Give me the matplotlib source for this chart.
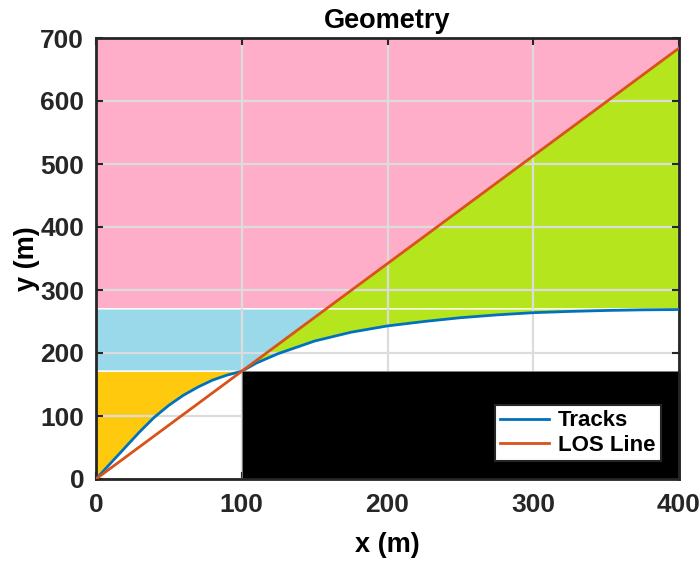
import matplotlib
matplotlib.use("Agg")
import matplotlib.pyplot as plt
import numpy as np
from matplotlib.patches import Polygon, Rectangle

# Data
track_x = [0, 10, 20, 30, 40, 50, 60, 70, 80, 90, 100, 110, 125, 150, 175,
           200, 225, 250, 275, 300, 325, 350, 375, 400]
track_y = [0, 25, 50, 75, 98, 117, 133, 146, 157, 165, 171, 184, 199, 219, 233,
           243, 250, 256, 260.5, 264, 266, 267.5, 268.5, 269]
los_x = [0, 400]
los_y = [0, 684]

wall_x = 100      # start of the black block
low_level = 171   # top of the black block / yellow zone
high_level = 270  # top of the blue zone
x_max = 400
y_max = 700

PINK = "#FFAEC9"
BLUE = "#99D9EA"
GOLD = "#FFC90E"
LIME = "#B5E61D"

plt.rcParams["font.family"] = ["Liberation Sans", "DejaVu Sans"]
plt.rcParams["font.weight"] = "bold"

fig = plt.figure(figsize=(7.0, 5.63), dpi=100)
ax = fig.add_axes([96 / 700, 84 / 563, 583 / 700, 441 / 563])

tx = np.array(track_x, dtype=float)
ty = np.array(track_y, dtype=float)
slope = los_y[1] / los_x[1]
x_cross = high_level / slope  # where LOS line reaches high_level

edge = dict(edgecolor="white", linewidth=1.0, zorder=1)

# pink: above high_level, left of LOS
ax.add_patch(Polygon([(0, high_level), (x_cross, high_level), (los_x[1], los_y[1]),
                      (x_max, y_max), (0, y_max)], facecolor=PINK, **edge))
# blue: between low and high level, left of LOS
ax.add_patch(Polygon([(0, low_level), (wall_x, low_level), (x_cross, high_level),
                      (0, high_level)], facecolor=BLUE, **edge))
# gold: above track, below low_level, left of wall
m = tx <= wall_x
ax.add_patch(Polygon(list(zip(tx[m], ty[m])) + [(wall_x, low_level), (0, low_level)],
                     facecolor=GOLD, **edge))
# lime upper: right of LOS above high_level
ax.add_patch(Polygon([(x_cross, high_level), (los_x[1], los_y[1]), (x_max, high_level)],
                     facecolor=LIME, **edge))
# lime lower: between LOS and track
m2 = tx >= wall_x
ax.add_patch(Polygon([(x_cross, high_level), (wall_x, wall_x * slope)]
                     + list(zip(tx[m2], ty[m2])) + [(x_max, high_level)],
                     facecolor=LIME, **edge))

ax.set_axisbelow(False)
ax.grid(True, color="#dcdcdc", linewidth=1.6)

# black block
ax.add_patch(Rectangle((wall_x, 0), x_max - wall_x + 1, low_level, facecolor="black",
                       edgecolor="#808080", linewidth=0.6, zorder=3, clip_on=False))

ax.plot(track_x, track_y, color="#0072BD", linewidth=2.0, label="Tracks", zorder=4)
ax.plot(los_x, los_y, color="#D95319", linewidth=2.0, label="LOS Line", zorder=4)

ax.set_xlim(0, x_max)
ax.set_ylim(0, y_max)
ax.set_xticks(np.arange(0, 401, 100))
ax.set_yticks(np.arange(0, 701, 100))
ax.tick_params(direction="in", top=True, right=True, length=5, width=1.5,
               colors="#262626", labelsize=19)
ax.tick_params(axis="x", pad=10)
ax.tick_params(axis="y", pad=8.5)
for lab in ax.get_xticklabels() + ax.get_yticklabels():
    lab.set_fontweight("bold")
for sp in ax.spines.values():
    sp.set_color("#262626")
    sp.set_linewidth(2.0)
    sp.set_zorder(3.5)

ax.set_title("Geometry", fontsize=19.5, fontweight="bold", pad=7)
ax.set_xlabel("x (m)", fontsize=19.5, fontweight="bold", labelpad=11)
ax.set_ylabel("y (m)", fontsize=19.5, fontweight="bold", labelpad=0)

leg = ax.legend(loc="lower right", fontsize=16, fancybox=False, framealpha=1,
                edgecolor="#262626", borderaxespad=0.8, handlelength=2.2,
                borderpad=0.25, labelspacing=0.15, handletextpad=0.4)
leg.get_frame().set_linewidth(1.5)
for t in leg.get_texts():
    t.set_fontweight("bold")
leg.set_zorder(5)

fig.savefig("out.png", dpi=100)
